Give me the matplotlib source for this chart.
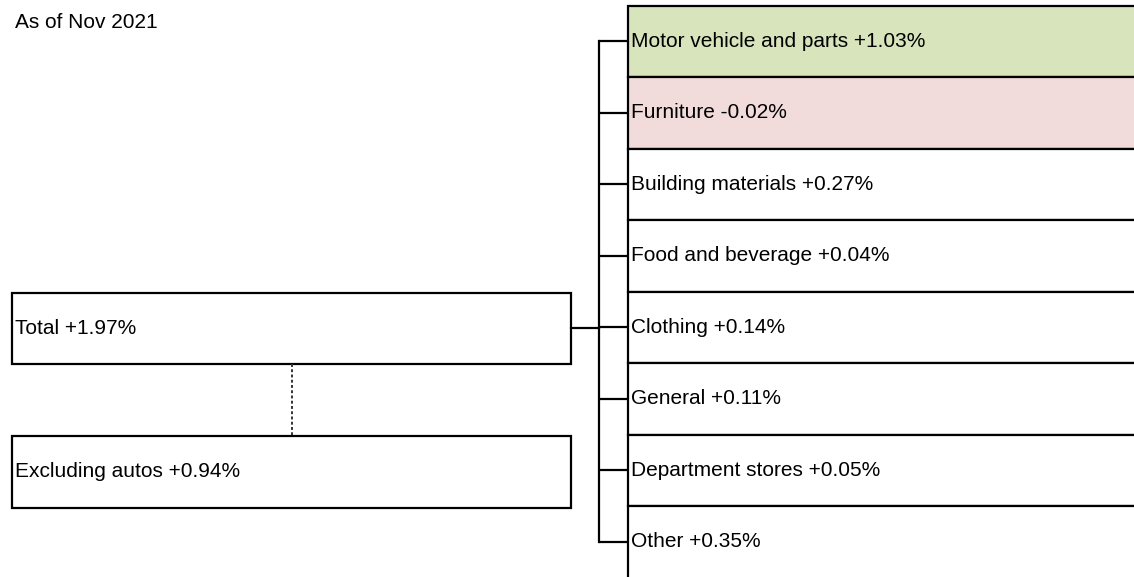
import matplotlib
matplotlib.use("Agg")
import matplotlib.pyplot as plt
from matplotlib.patches import Rectangle

plt.rcParams["font.family"] = ["Liberation Sans", "DejaVu Sans"]

# data
as_of = "As of Nov 2021"
total_label, total_value = "Total", 1.97
exauto_label, exauto_value = "Excluding autos", 0.94
categories = ["Motor vehicle and parts", "Furniture", "Building materials",
              "Food and beverage", "Clothing", "General",
              "Department stores", "Other"]
contrib = [1.03, -0.02, 0.27, 0.04, 0.14, 0.11, 0.05, 0.35]
highlight = {0: "#D8E4BC", 1: "#F2DCDB"}

W, H = 1134, 577
fig = plt.figure(figsize=(W / 100, H / 100), dpi=100)
ax = fig.add_axes([0, 0, 1, 1])
ax.set_xlim(0, W)
ax.set_ylim(H, 0)
ax.axis("off")

fs = 15
lw = 1.6

def fmt(v):
    return f"{v:+.2f}%"

# right column of categories (last box runs off the bottom edge)
rx, top, bh = 628, 5.7, 71.5
bx = 599
centers = []
for i, (name, v) in enumerate(zip(categories, contrib)):
    y0 = top + i * bh
    h = bh if i < len(categories) - 1 else bh * 2
    ax.add_patch(Rectangle((rx, y0), 600, h, facecolor=highlight.get(i, "white"),
                           edgecolor="black", lw=lw, zorder=1))
    cy = y0 + bh / 2
    centers.append(cy)
    ax.text(rx + 3, cy, f"{name} {fmt(v)}", fontsize=fs, va="center", ha="left", zorder=3)
    ax.plot([bx, rx], [cy, cy], color="black", lw=lw, solid_capstyle="butt", zorder=2)
ax.plot([bx, bx], [centers[0], centers[-1]], color="black", lw=lw, zorder=2)

# left boxes
lx, lw_box = 12, 559
ty = 292.7
ey = 436
ax.add_patch(Rectangle((lx, ty), lw_box, bh, facecolor="white", edgecolor="black", lw=lw))
ax.add_patch(Rectangle((lx, ey), lw_box, bh, facecolor="white", edgecolor="black", lw=lw))
ax.text(lx + 3, ty + bh / 2, f"{total_label} {fmt(total_value)}", fontsize=fs, va="center")
ax.text(lx + 3, ey + bh / 2, f"{exauto_label} {fmt(exauto_value)}", fontsize=fs, va="center")
ax.plot([lx + lw_box, bx], [ty + bh / 2, ty + bh / 2], color="black", lw=lw)
midx = lx + lw_box / 2
ax.plot([midx, midx], [ty + bh, ey], color="#333333", lw=1.4, ls=(0, (1.5, 1.2)))

ax.text(15, 23, as_of, fontsize=fs, va="center", ha="left")

fig.savefig("out.png", dpi=100)
